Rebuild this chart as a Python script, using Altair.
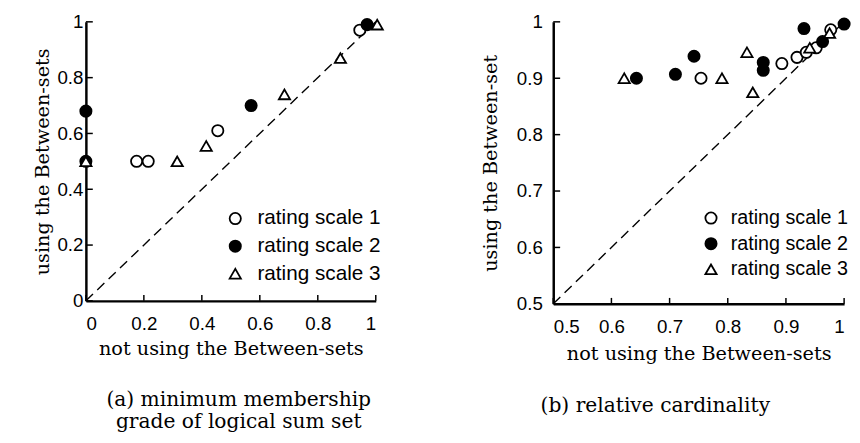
import altair as alt
import pandas as pd

# ---------- data ----------
series_names = ["rating scale 1", "rating scale 2", "rating scale 3"]

# Panel (a): minimum membership grade of logical sum set
a_s1_x = [0.175, 0.215, 0.455, 0.945]
a_s1_y = [0.50, 0.50, 0.61, 0.97]
a_s2_x = [0.0, 0.0, 0.57, 0.97]
a_s2_y = [0.68, 0.50, 0.70, 0.99]
a_s3_x = [0.0, 0.315, 0.415, 0.685, 0.878, 1.005]
a_s3_y = [0.50, 0.50, 0.555, 0.74, 0.87, 0.99]

# Panel (b): relative cardinality
b_s1_x = [0.754, 0.893, 0.919, 0.935, 0.952, 0.977]
b_s1_y = [0.900, 0.926, 0.937, 0.946, 0.954, 0.986]
b_s2_x = [0.643, 0.710, 0.742, 0.861, 0.861, 0.931, 0.963, 1.0]
b_s2_y = [0.900, 0.907, 0.939, 0.928, 0.914, 0.988, 0.965, 0.996]
b_s3_x = [0.622, 0.790, 0.833, 0.843, 0.941, 0.975]
b_s3_y = [0.900, 0.900, 0.946, 0.875, 0.954, 0.980]

a_ticks = [0, 0.2, 0.4, 0.6, 0.8, 1]
b_ticks = [0.5, 0.6, 0.7, 0.8, 0.9, 1]
a_diag = [0, 1]
b_diag = [0.5, 1]

x_title = "not using the Between-sets"
a_y_title = "using the Between-sets"
b_y_title = "using the Between-set"
a_caption = ["(a) minimum membership", "grade of logical sum set"]
b_caption = ["(b) relative cardinality"]


def make_points(sx, sy):
    rows = []
    for name, xs, ys in zip(series_names, sx, sy):
        for x, y in zip(xs, ys):
            rows.append({"x": x, "y": y, "scale": name})
    return pd.DataFrame(rows)


SANS = "Liberation Sans"
SERIF = "DejaVu Serif"


def panel(points, ticks, diag, w, h, ytitle, caption, lab_pad_y, title_pad_y,
          lab_pad_x, title_pad_x, legx, legy, leg_font, leg_off, cap_dx, cap_offset):
    dom = [ticks[0], ticks[-1]]
    x_enc = alt.X("x:Q", scale=alt.Scale(domain=dom, nice=False, zero=False),
                  axis=alt.Axis(values=ticks, format="~g", title=x_title,
                                labelPadding=lab_pad_x, titlePadding=title_pad_x))
    y_enc = alt.Y("y:Q", scale=alt.Scale(domain=dom, nice=False, zero=False),
                  axis=alt.Axis(values=ticks, format="~g", title=ytitle,
                                labelPadding=lab_pad_y, titlePadding=title_pad_y))

    diag_df = pd.DataFrame({"x": diag, "y": diag})
    diag_layer = alt.Chart(diag_df).mark_line(
        color="black", strokeWidth=1.4, strokeDash=[10, 6]
    ).encode(x=x_enc, y=y_enc)

    tick_df = pd.DataFrame({"x": ticks, "y": ticks})
    xt = alt.Chart(tick_df).mark_rule(color="black", strokeWidth=1.5).encode(
        x=x_enc, y=alt.value(h), y2=alt.value(h - 6))
    yt = alt.Chart(tick_df).mark_rule(color="black", strokeWidth=1.5).encode(
        y=y_enc, x=alt.value(0), x2=alt.value(7))

    leg = alt.Legend(title=None, orient="none", legendX=legx, legendY=legy,
                     labelFont=SANS, labelFontSize=leg_font, labelColor="black",
                     symbolSize=130, symbolStrokeWidth=1.8, rowPadding=6,
                     labelOffset=leg_off)
    pts = alt.Chart(points).mark_point(
        strokeWidth=1.8, opacity=1, filled=False, size=130
    ).encode(
        x=x_enc, y=y_enc,
        shape=alt.Shape("scale:N", scale=alt.Scale(
            domain=series_names, range=["circle", "circle", "triangle-up"]), legend=leg),
        fill=alt.Fill("scale:N", scale=alt.Scale(
            domain=series_names, range=["white", "black", "white"]), legend=leg),
        stroke=alt.Stroke("scale:N", scale=alt.Scale(
            domain=series_names, range=["black", "black", "black"]), legend=leg),
    )
    return alt.layer(diag_layer, xt, yt, pts).properties(
        width=w, height=h,
        title=alt.TitleParams(text=caption, orient="bottom", font=SERIF, fontSize=20.5,
                              fontWeight="normal", color="black", lineHeight=22,
                              offset=cap_offset, dx=cap_dx, anchor="middle"),
    )


pa = panel(make_points([a_s1_x, a_s2_x, a_s3_x], [a_s1_y, a_s2_y, a_s3_y]),
           a_ticks, a_diag, 294, 283, a_y_title, a_caption,
           lab_pad_y=3, title_pad_y=5, lab_pad_x=14, title_pad_x=6,
           legx=141, legy=189, leg_font=21, leg_off=12, cap_dx=8, cap_offset=33)
pb = panel(make_points([b_s1_x, b_s2_x, b_s3_x], [b_s1_y, b_s2_y, b_s3_y]),
           b_ticks, b_diag, 295, 286, b_y_title, b_caption,
           lab_pad_y=11, title_pad_y=16, lab_pad_x=14, title_pad_x=8,
           legx=150, legy=189, leg_font=20, leg_off=10, cap_dx=-44, cap_offset=34)

chart = alt.hconcat(pa, pb, spacing=95).resolve_scale(
    shape="independent", fill="independent", stroke="independent",
    x="independent", y="independent"
).properties(
    padding={"left": 24, "top": 2, "right": -2, "bottom": 0},
    background="white",
).configure_view(stroke=None).configure_axis(
    domainColor="black", domainWidth=2.5, ticks=False, tickSize=0, grid=False,
    labelFont=SANS, labelFontSize=19, labelColor="black",
    titleFont=SERIF, titleFontSize=19.5, titleFontWeight="normal", titleColor="black",
)

chart.save("out.html", embed_options={"renderer": "svg", "actions": False})
